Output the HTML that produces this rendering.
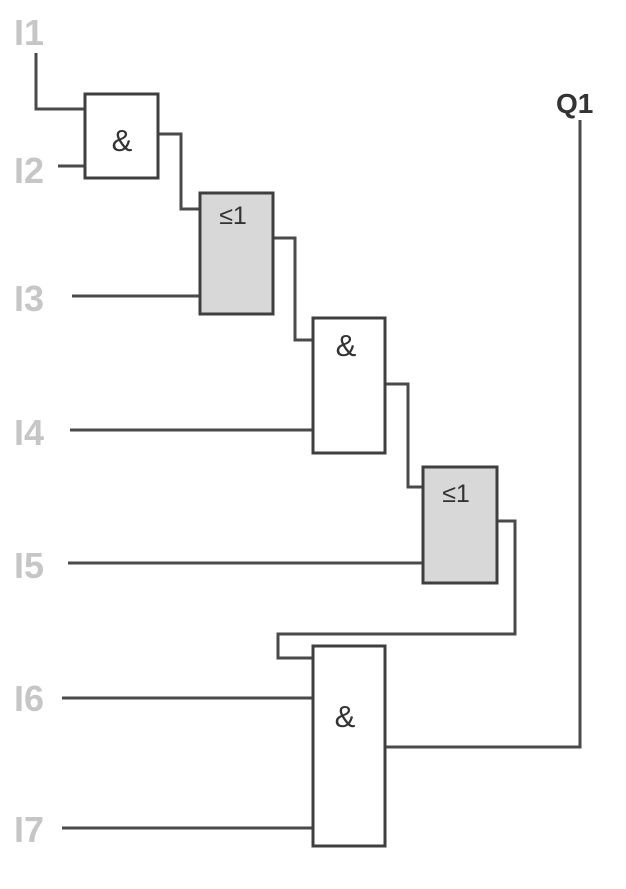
<!DOCTYPE html>
<html><head><style>body{margin:0;background:#fff}svg{display:block}</style></head><body>
<svg width="626" height="889" viewBox="0 0 626 889" xmlns="http://www.w3.org/2000/svg">
<g font-family="Liberation Sans, sans-serif" font-weight="bold" font-size="36" fill="#c6c6c6">
<text x="14" y="45">I1</text>
<text x="14" y="183">I2</text>
<text x="14" y="311">I3</text>
<text x="14" y="445">I4</text>
<text x="14" y="578">I5</text>
<text x="14" y="711">I6</text>
<text x="14" y="842">I7</text>
</g>
<text x="556" y="113" font-family="Liberation Sans, sans-serif" font-weight="bold" font-size="28" fill="#333">Q1</text>
<g fill="none" stroke="#4a4a4a" stroke-width="3">
<polyline points="36,53 36,109 85,109"/>
<line x1="58" y1="166" x2="85" y2="166"/>
<polyline points="158,134 181,134 181,209 200,209"/>
<line x1="72" y1="296" x2="200" y2="296"/>
<polyline points="273,238 295,238 295,340 313,340"/>
<line x1="70" y1="430" x2="313" y2="430"/>
<polyline points="385,384 408,384 408,487 423,487"/>
<line x1="68" y1="563" x2="423" y2="563"/>
<polyline points="497,521 515,521 515,634 278,634 278,658 313,658"/>
<line x1="62" y1="698" x2="313" y2="698"/>
<line x1="62" y1="828" x2="313" y2="828"/>
<polyline points="385,747 580,747 580,120"/>
</g>
<g stroke="#3f3f3f" stroke-width="3">
<rect x="85" y="94" width="73" height="84" fill="#fff"/>
<rect x="200" y="193" width="73" height="121" fill="#d8d8d8"/>
<rect x="313" y="318" width="72" height="135" fill="#fff"/>
<rect x="423" y="467" width="74" height="116" fill="#d8d8d8"/>
<rect x="313" y="646" width="72" height="200" fill="#fff"/>
</g>
<g font-family="Liberation Sans, sans-serif" font-size="31" fill="#333" text-anchor="middle">
<text x="122" y="151">&amp;</text>
<text x="233" y="224" font-size="25">≤1</text>
<text x="346" y="356">&amp;</text>
<text x="456" y="502" font-size="25">≤1</text>
<text x="345" y="727">&amp;</text>
</g>
</svg>
</body></html>
